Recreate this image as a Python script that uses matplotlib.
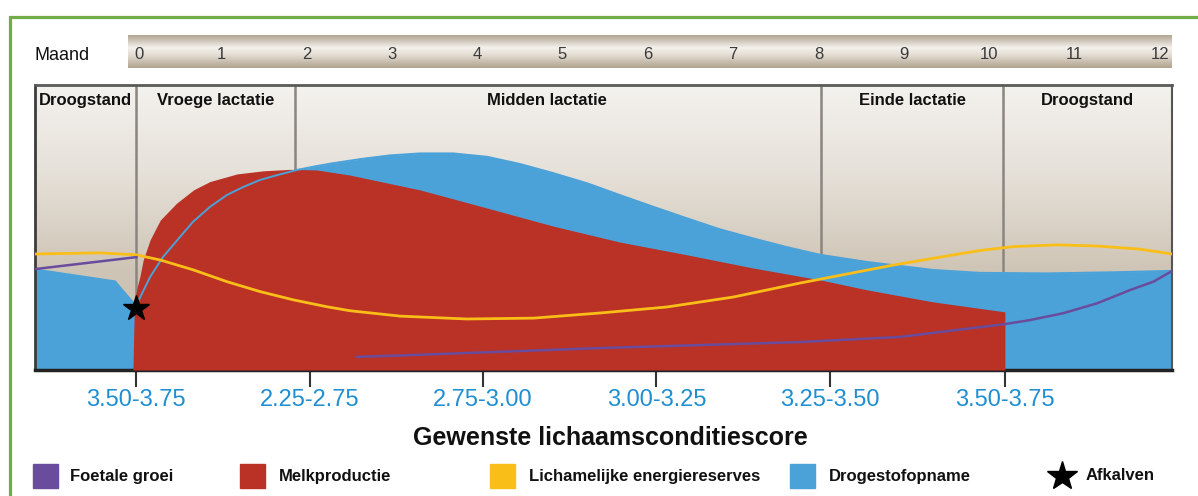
import numpy as np
import matplotlib.pyplot as plt
from matplotlib.colors import LinearSegmentedColormap
from matplotlib.lines import Line2D
from matplotlib.patches import Rectangle

plt.rcParams['font.family'] = ['Liberation Sans', 'DejaVu Sans']

W, H = 1198, 496

# lactation cycle, x in months after calving, y on a relative 0-100 scale
months = list(range(13))
phases = ['Droogstand', 'Vroege lactatie', 'Midden lactatie', 'Einde lactatie', 'Droogstand']
phase_bounds = [0.0, 1.87, 8.03, 10.16]

bcs_labels = ['3.50-3.75', '2.25-2.75', '2.75-3.00', '3.00-3.25', '3.25-3.50', '3.50-3.75']
bcs_months = [0.0, 2.04, 4.07, 6.10, 8.13, 10.18]

dmi_month = [-1.18, -0.24, 0.01, 0.17, 0.32, 0.49, 0.67, 0.87, 1.07, 1.26, 1.46, 1.66,
             1.89, 2.13, 2.28, 2.63, 2.98, 3.33, 3.72, 4.12, 4.50, 4.89, 5.29, 5.67,
             6.06, 6.46, 6.84, 7.23, 7.63, 8.02, 8.57, 9.34, 9.88, 10.67, 11.45, 12.14]
dmi = [35.8, 31.6, 22.8, 32.6, 39.6, 45.6, 51.9, 57.2, 61.4, 64.2, 66.7, 68.4,
       70.2, 71.6, 72.4, 74.0, 75.3, 76.0, 76.0, 74.8, 72.3, 69.1, 65.5, 61.4,
       57.3, 53.2, 49.4, 46.2, 43.1, 40.4, 37.9, 35.1, 34.1, 33.9, 34.3, 34.8]

milk_month = [-0.03, -0.02, -0.01, 0.02, 0.05, 0.09, 0.17, 0.29, 0.48, 0.68, 0.87, 1.19,
              1.50, 1.81, 2.12, 2.51, 3.33, 4.12, 4.89, 5.67, 6.46, 7.23, 8.02, 8.57,
              9.34, 10.18]
milk = [0.0, 14.0, 24.6, 29.1, 32.6, 38.6, 45.6, 52.6, 58.5, 63.2, 66.1, 68.8,
        69.9, 70.4, 70.2, 68.4, 63.2, 56.8, 50.5, 44.9, 40.4, 35.8, 31.6, 28.1,
        23.9, 20.4]

energy_month = [-1.18, -0.42, 0.01, 0.29, 0.68, 1.07, 1.46, 1.85, 2.24, 2.51, 3.10,
                3.88, 4.66, 5.44, 6.22, 7.00, 7.78, 8.87, 9.50, 9.88, 10.28, 10.79,
                11.26, 11.76, 12.14]
energy = [40.7, 41.1, 40.4, 38.6, 35.1, 31.0, 27.5, 24.6, 22.2, 20.8, 18.9,
          17.9, 18.2, 20.0, 22.1, 25.6, 30.5, 36.8, 40.0, 41.9, 43.3, 43.9,
          43.5, 42.4, 40.7]

fetal_dry_month = [-1.18, 0.01]
fetal_dry = [35.4, 39.6]
fetal_month = [2.59, 3.10, 5.44, 7.78, 8.95, 9.88, 10.18, 10.47, 10.86, 11.26, 11.65,
               11.92, 12.14]
fetal = [4.6, 5.1, 7.7, 9.8, 11.6, 15.0, 16.1, 17.5, 19.9, 23.4, 28.1, 31.0, 34.8]

calving = (0.01, 21.6)

legend_labels = ['Foetale groei', 'Melkproductie', 'Lichamelijke energiereserves',
                 'Drogestofopname', 'Afkalven']

purple = '#6a4c9c'
red = '#ba3126'
yellow = '#f9be17'
blue = '#4ba2d9'

fig = plt.figure(figsize=(W / 100, H / 100), dpi=100)
fig.patch.set_facecolor('white')

# green frame
fig.add_artist(Rectangle((10 / W, -0.1), 1.2, (H - 17) / H + 0.1, fill=False,
                         ec='#70ad47', lw=2.3, transform=fig.transFigure))

# month bar
mb = fig.add_axes([128 / W, (H - 68) / H, (1172 - 128) / W, 33 / H])
bar_cmap = LinearSegmentedColormap.from_list(
    'bar', [(0, '#b2a591'), (0.38, '#f4f1ec'), (0.6, '#e4ded4'), (1, '#b1a38e')])
mb.imshow(np.linspace(0, 1, 64).reshape(-1, 1), cmap=bar_cmap, aspect='auto',
          extent=[-0.09, 12.14, 0, 1], origin='upper')
mb.set_xlim(-0.09, 12.14)
mb.set_ylim(0, 1)
mb.axis('off')
for m in months:
    mb.text(m + (0.04 if m == 0 else 0), 0.42, str(m), ha='center', va='center',
            fontsize=12, color='#3a3a3a')
fig.text(35 / W, (H - 56) / H, 'Maand', ha='left', va='center', fontsize=13, color='#111111')

# main panel
ax = fig.add_axes([35 / W, (H - 370) / H, (1172 - 35) / W, (370 - 85) / H])
xlo, xhi = -1.177, 12.137
ax.set_xlim(xlo, xhi)
ax.set_ylim(0, 100)

bg_cmap = LinearSegmentedColormap.from_list(
    'bg', [(0, '#f4f2ee'), (0.3, '#e6e1d9'), (0.65, '#cfc5b6'), (1, '#c6bba9')])
ax.imshow(np.linspace(0, 1, 128).reshape(-1, 1), cmap=bg_cmap, aspect='auto',
          extent=[xlo, xhi, 0, 100], origin='upper', zorder=0)

for b in phase_bounds:
    ax.axvline(b, color='#8a857f', lw=1.8, zorder=1)

edges = [xlo] + phase_bounds + [xhi]
for i, name in enumerate(phases):
    cx = (edges[i] + edges[i + 1]) / 2
    if name == 'Midden lactatie':
        cx -= 0.13
    ax.text(cx, 94.7, name, ha='center', va='center',
            fontsize=12, fontweight='bold', color='#111111', zorder=7)

ax.fill_between(dmi_month, dmi, 0, color=blue, lw=0, zorder=2)
ax.fill_between(milk_month, milk, 0, color=red, lw=0, zorder=3)
# intake curve drawn as a line too, so it stays visible over the milk area
ax.plot(dmi_month[2:], dmi[2:], color=blue, lw=1.4, zorder=4)
ax.plot(energy_month, energy, color=yellow, lw=2, zorder=5)
ax.plot(fetal_dry_month, fetal_dry, color=purple, lw=1.8, zorder=5)
ax.plot(fetal_month, fetal, color=purple, lw=1.8, zorder=5)
ax.plot(*calving, marker='*', ms=19, color='black', zorder=6)

ax.spines['top'].set_color('#5a5a5a')
ax.spines['top'].set_linewidth(2)
ax.spines['left'].set_color('#3c3c3c')
ax.spines['left'].set_linewidth(2)
ax.spines['right'].set_color('#555555')
ax.spines['right'].set_linewidth(1.5)
ax.spines['bottom'].set_color('#222222')
ax.spines['bottom'].set_linewidth(2.5)

ax.set_yticks([])
ax.set_xticks(bcs_months)
ax.set_xticklabels(bcs_labels)
ax.tick_params(axis='x', direction='out', length=12, width=1.5, color='#333333',
               labelcolor='#1f8fd2', labelsize=17, pad=2)

fig.text(610 / W, (H - 438) / H, 'Gewenste lichaamsconditiescore', ha='center',
         va='center', fontsize=18, fontweight='bold', color='#111111')

# legend row
legend_colors = [purple, red, yellow, blue]
legend_x = [33, 240, 490, 790, 1062]
text_x = [70, 279, 529, 829, 1086]
ly = (H - 476) / H
for i, lab in enumerate(legend_labels):
    if i < 4:
        fig.add_artist(Rectangle((legend_x[i] / W, (H - 488) / H), 25 / W, 24 / H,
                                 color=legend_colors[i], transform=fig.transFigure))
    else:
        fig.add_artist(Line2D([legend_x[i] / W], [ly], marker='*', ms=22, color='black',
                              transform=fig.transFigure))
    fig.text(text_x[i] / W, ly, lab, ha='left', va='center', fontsize=12,
             fontweight='bold', color='#111111')

fig.savefig('out.png', dpi=100)
